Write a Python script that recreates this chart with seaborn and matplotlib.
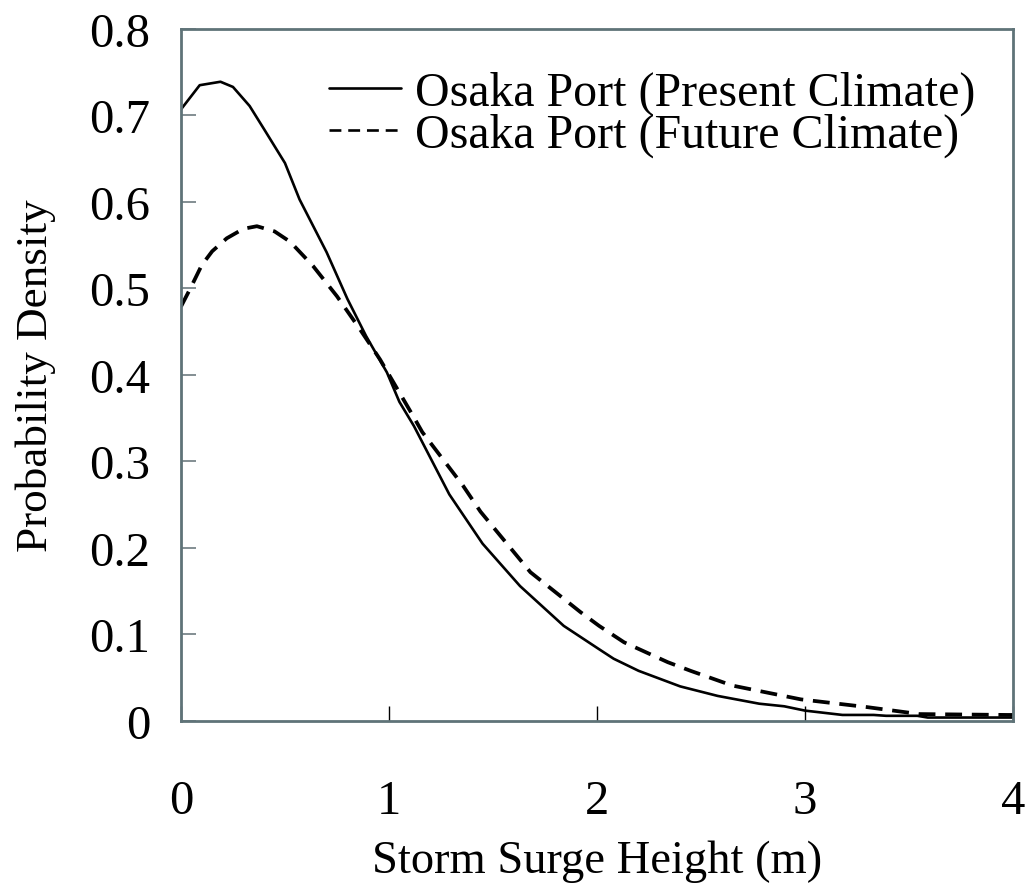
import matplotlib
matplotlib.use("Agg")
import matplotlib.pyplot as plt
import seaborn as sns
import pandas as pd

# Storm surge height (m) and density
present_x = [0.0, 0.09, 0.19, 0.25, 0.33, 0.40, 0.50, 0.57, 0.70, 0.80, 0.89, 0.99,
             1.05, 1.12, 1.29, 1.45, 1.63, 1.84, 2.01, 2.08, 2.20, 2.40, 2.58, 2.78,
             2.90, 3.00, 3.18, 3.33, 3.39, 3.54, 3.59, 4.0]
present_y = [0.707, 0.735, 0.739, 0.733, 0.711, 0.684, 0.645, 0.603, 0.542, 0.488,
             0.445, 0.403, 0.369, 0.341, 0.262, 0.205, 0.156, 0.110, 0.083, 0.072,
             0.058, 0.040, 0.029, 0.020, 0.017, 0.012, 0.007, 0.007, 0.006, 0.006,
             0.004, 0.004]

future_x = [0.0, 0.045, 0.10, 0.15, 0.22, 0.30, 0.365, 0.45, 0.525, 0.635, 0.75,
            0.86, 0.957, 1.115, 1.16, 1.356, 1.44, 1.68, 1.92, 2.01, 2.13, 2.34,
            2.45, 2.65, 2.98, 3.30, 3.55, 3.97, 4.0]
future_y = [0.479, 0.500, 0.527, 0.543, 0.558, 0.569, 0.572, 0.566, 0.554, 0.526,
            0.491, 0.453, 0.418, 0.353, 0.334, 0.272, 0.242, 0.172, 0.126, 0.110,
            0.091, 0.068, 0.058, 0.041, 0.025, 0.016, 0.008, 0.007, 0.007]

labels = ["Osaka Port (Present Climate)", "Osaka Port (Future Climate)"]
x_ticks = [0, 1, 2, 3, 4]
y_ticks = [0, 0.1, 0.2, 0.3, 0.4, 0.5, 0.6, 0.7, 0.8]
y_tick_labels = ["0", "0.1", "0.2", "0.3", "0.4", "0.5", "0.6", "0.7", "0.8"]

sns.set_style("white")
plt.rcParams["font.family"] = ["Liberation Serif", "DejaVu Serif"]
plt.rcParams["text.color"] = "black"
plt.rcParams["axes.labelcolor"] = "black"
plt.rcParams["xtick.color"] = "black"
plt.rcParams["ytick.color"] = "black"

spine_color = "#5f7378"

fig = plt.figure(figsize=(10.27, 8.95), dpi=100)
ax = fig.add_axes([0.1762, 0.1933, 0.8102, 0.7732])

df_present = pd.DataFrame({"x": present_x, "y": present_y})
df_future = pd.DataFrame({"x": future_x, "y": future_y})

sns.lineplot(data=df_present, x="x", y="y", ax=ax, color="black",
             linewidth=1.9, label=labels[0])
sns.lineplot(data=df_future, x="x", y="y", ax=ax, color="black",
             linewidth=2.7, linestyle=(0, (4.5, 2.6)), label=labels[1])

ax.set_xlim(0, 4)
ax.set_ylim(0, 0.8)
ax.set_xticks(x_ticks)
ax.set_xticklabels([str(t) for t in x_ticks])
ax.set_yticks(y_ticks)
ax.set_yticklabels(y_tick_labels)

ax.tick_params(axis="x", direction="in", length=11, width=1.0, color="black",
               pad=42, labelsize=35, bottom=True)
ax.tick_params(axis="y", direction="in", length=11, width=1.2, color="#6e7c80",
               pad=22, labelsize=35, left=True)

for spine in ax.spines.values():
    spine.set_color(spine_color)
    spine.set_linewidth(2.0)

ax.set_xlabel("Storm Surge Height (m)", fontsize=33.5, labelpad=12)
ax.set_ylabel("Probability Density", fontsize=32.5, labelpad=24)

leg = ax.legend(loc="upper right", frameon=False, fontsize=34.5,
                handlelength=1.5, handletextpad=0.3, labelspacing=-0.05,
                borderaxespad=0.0, bbox_to_anchor=(0.978, 0.968))
for line in leg.get_lines():
    line.set_linewidth(1.9)

fig.savefig("out.png", dpi=100)
